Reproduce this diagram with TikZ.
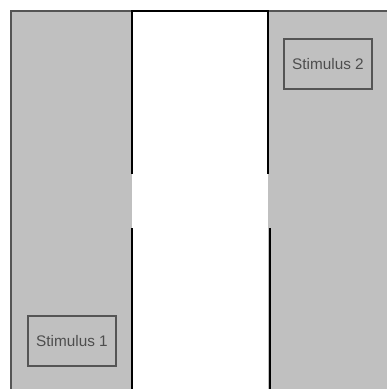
\documentclass[tikz,border=0pt]{standalone}
\usepackage{fontspec}
\setmainfont{Liberation Sans}
\definecolor{panelgray}{HTML}{C0C0C0}
\definecolor{edgegray}{HTML}{555555}
\definecolor{labelgray}{HTML}{4D4D4D}

\begin{document}
\begin{tikzpicture}[x=0.75pt, y=-0.75pt,
        stimbox/.style={draw=edgegray, line width=1.5pt, fill=panelgray,
          text=labelgray, font=\fontsize{11.5}{13}\selectfont,
          minimum width=66pt, minimum height=38pt, inner sep=0pt},
        wall/.style={draw=black, line width=1.5pt},
      ]
      \useasboundingbox (0,0) rectangle (387,389);

      % Gray side chambers
      \fill[panelgray] (11,11) rectangle (132,389);
      \fill[panelgray] (268,11) rectangle (387,389);
      \draw[draw=edgegray, line width=1.5pt] (11,389) -- (11,11) -- (132,11);
      \draw[draw=edgegray, line width=1.5pt] (268,11) -- (387,11);

      % Middle corridor walls, with the openings
      \draw[wall] (132,174) -- (132,11) -- (268,11) -- (268,174);
      \draw[wall] (132,228) -- (132,389);
      \draw[wall] (270,228) -- (270,389);

      % Stimuli
      \node[stimbox] (stim1) at (72,341) {Stimulus 1};
      \node[stimbox] (stim2) at (328,64) {Stimulus 2};
    \end{tikzpicture}
\end{document}
